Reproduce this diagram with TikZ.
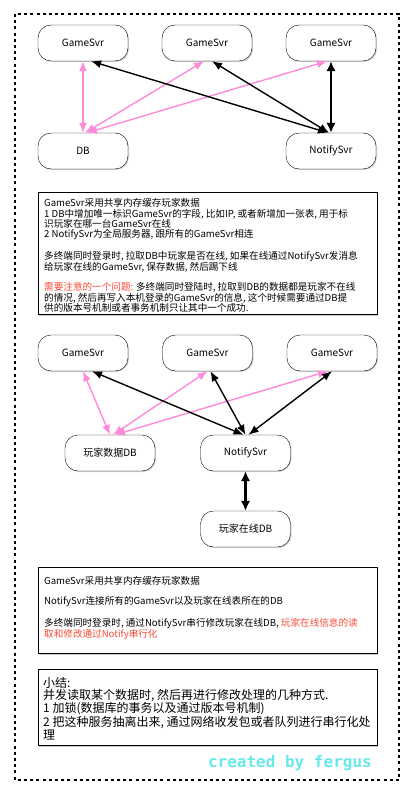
\documentclass[tikz,border=0pt]{standalone}
\usepackage{fontspec}
\setmainfont{Noto Sans CJK SC}
\newfontfamily\credfont{DejaVu Sans Mono}
\usepackage{xcolor}
\usetikzlibrary{arrows.meta,shadows}
\definecolor{pinkln}{RGB}{255,138,218}
\definecolor{notered}{RGB}{250,75,55}
\definecolor{credcyan}{RGB}{105,232,235}

\begin{document}
\begin{tikzpicture}[x=1pt,y=-1pt,
    svr/.style={draw,fill=white,rounded corners=13pt,minimum width=90pt,minimum height=36pt,inner sep=0pt,font=\fontsize{10}{11}\selectfont,drop shadow={shadow xshift=1pt,shadow yshift=-1pt,opacity=.35}},
    panel/.style={draw,line width=0.9pt,fill=white,minimum width=339pt,drop shadow={shadow xshift=1pt,shadow yshift=-1.5pt,opacity=.4}},
    note/.style={anchor=north west,align=left,inner sep=0pt,font=\fontsize{9.6}{10.2}\selectfont},
    pinkarr/.style={<->,>={Latex[length=10pt,width=8pt]},line width=1.4pt,pinkln},
    blackarr/.style={<->,>={Latex[length=10pt,width=8pt]},line width=1.4pt,black},
    thickarr/.style={<->,>={Latex[length=10pt,width=9.5pt]},line width=2.4pt,black}
  ]
    \useasboundingbox (0,0) rectangle (415,799);
    \draw[line width=2.4pt,dash pattern=on 3pt off 3.2pt] (15,14) rectangle (399,780);

    % first layout: GameSvr x3, DB, NotifySvr
    \node[svr] (g1) at (83,43) {GameSvr};
    \node[svr] (g2) at (207,43) {GameSvr};
    \node[svr] (g3) at (331,43) {GameSvr};
    \node[svr] (db) at (83,151) {DB};
    \node[svr] (ns) at (331,151) {NotifySvr};

    \draw[pinkarr] (g1.south) -- (db.north);
    \draw[pinkarr] ([xshift=-3pt]g2.south) -- ([xshift=2pt]db.north);
    \draw[pinkarr] ([xshift=-4pt]g3.south) -- ([xshift=4pt]db.north);
    \draw[blackarr] ([xshift=8pt]g1.south) -- ([xshift=-3pt]ns.north);
    \draw[blackarr] ([xshift=5pt]g2.south) -- ([xshift=-2pt]ns.north);
    \draw[thickarr] (g3.south) -- (ns.north);

    % notes for first layout
    \node[panel,minimum height=122pt] (box1) at (207.5,253) {};
    \node[note] (txt1) at (44,198.5) {GameSvr采用共享内存缓存玩家数据\\
      1 DB中增加唯一标识GameSvr的字段, 比如IP, 或者新增加一张表, 用于标\\
      识玩家在哪一台GameSvr在线\\
      2 NotifySvr为全局服务器, 跟所有的GameSvr相连\\[10.2pt]
      多终端同时登录时, 拉取DB中玩家是否在线, 如果在线通过NotifySvr发消息\\
      给玩家在线的GameSvr, 保存数据, 然后踢下线\\[10.2pt]
      \textcolor{notered}{需要注意的一个问题:} 多终端同时登陆时, 拉取到DB的数据都是玩家不在线\\
      的情况, 然后再写入本机登录的GameSvr的信息, 这个时候需要通过DB提\\
      供的版本号机制或者事务机制只让其中一个成功.};

    % second layout: NotifySvr in front of the online table
    \node[svr] (g4) at (83,353) {GameSvr};
    \node[svr] (g5) at (207.5,353) {GameSvr};
    \node[svr] (g6) at (332,353) {GameSvr};
    \node[svr] (pdb) at (110,453) {玩家数据DB};
    \node[svr] (ns2) at (245.5,453) {NotifySvr};
    \node[svr] (odb) at (245.5,529) {玩家在线DB};

    \draw[pinkarr] (g4.south) -- (pdb.north);
    \draw[pinkarr] (g5.south) -- ([xshift=3pt]pdb.north);
    \draw[pinkarr] ([xshift=-4pt]g6.south) -- ([xshift=5pt]pdb.north);
    \draw[blackarr] ([xshift=9pt]g4.south) -- ([xshift=-2pt]ns2.north);
    \draw[blackarr] ([xshift=3pt]g5.south) -- (ns2.north);
    \draw[blackarr] (g6.south) -- ([xshift=3pt]ns2.north);
    \draw[thickarr] (ns2.south) -- (odb.north);

    % notes for second layout
    \node[panel,minimum height=86pt] (box2) at (207.5,610) {};
    \node[note] (txt2) at (44,576) {GameSvr采用共享内存缓存玩家数据\\[10.2pt]
      NotifySvr连接所有的GameSvr以及玩家在线表所在的DB\\[10.2pt]
      多终端同时登录时, 通过NotifySvr串行修改玩家在线DB, \textcolor{notered}{玩家在线信息的读}\\
      \textcolor{notered}{取和修改通过Notify串行化}};

    % summary
    \node[panel,minimum height=76pt] (box3) at (207.5,707) {};
    \node[note,font=\fontsize{12}{11.6}\selectfont] (txt3) at (43,677.5) {小结:\\
      并发读取某个数据时, 然后再进行修改处理的几种方式.\\
      1 加锁(数据库的事务以及通过版本号机制)\\
      2 把这种服务抽离出来, 通过网络收发包或者队列进行串行化处\\
      理};

    \node[anchor=east,inner sep=0pt,text=credcyan,font=\credfont\bfseries\fontsize{16}{16}\selectfont] (cred) at (372,763) {created by fergus};
\end{tikzpicture}
\end{document}
